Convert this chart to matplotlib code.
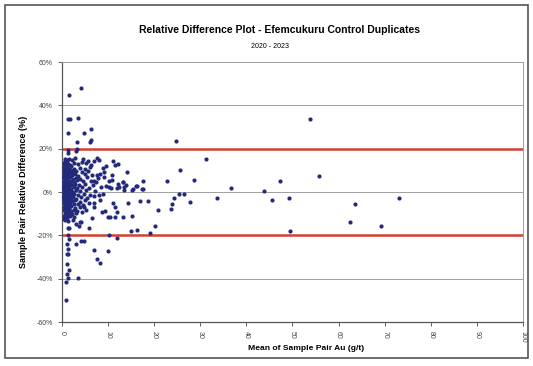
import matplotlib.pyplot as plt
from matplotlib.patches import Rectangle
from matplotlib.ticker import FuncFormatter

plt.rcParams['font.family'] = ['Liberation Sans', 'DejaVu Sans']

title = 'Relative Difference Plot - Efemcukuru Control Duplicates'
subtitle = '2020 - 2023'
x_label = 'Mean of Sample Pair Au (g/t)'
y_label = 'Sample Pair Relative Difference (%)'
limits_pct = [20, -20]

# points away from the main cluster: (mean Au g/t, relative difference %)
pairs_outer = [
    (53.8, 33.7), (31.2, 15.3), (55.8, 7.5), (36.6, 1.8), (47.2, 5.0), (43.9, 0.5),
    (33.7, -2.6), (45.6, -3.6), (49.2, -2.6), (63.6, -5.5), (62.4, -13.9), (69.3, -15.7),
    (73.2, -2.7), (49.5, -17.8), (24.7, 23.5), (25.6, 10.1), (28.6, 5.5), (22.8, 5.2),
    (25.4, -0.7), (26.5, -1.0), (24.4, -2.6), (27.8, -4.6), (23.9, -5.7), (23.6, -7.8),
    (20.9, -8.3), (18.7, -4.0), (16.9, -4.3), (14.3, -5.3), (20.1, -15.6), (19.2, -18.7),
    (16.3, -17.4), (14.9, -18.0), (11.9, -21.2), (17.6, 5.3), (17.5, 1.6), (16.2, 3.0),
    (15.3, 1.2), (14.0, 9.2), (13.3, 4.4), (13.9, 3.3), (15.2, -10.9), (13.3, -11.5),
    (11.6, -11.5), (12.2, 3.8), (11.1, 14.5), (11.6, 12.3), (12.1, 12.9), (9.6, 12.2),
    (10.3, -19.8), (5.9, -16.4),
]

# points near the left edge (high, low and mid-range x)
pairs_left = [
    (1.5, 44.6), (4.1, 48.1), (1.4, 33.7), (1.8, 33.7), (3.5, 34.3), (1.2, 27.3),
    (4.8, 27.1), (6.4, 28.9), (3.2, 23.0), (6.1, 23.2), (6.4, 24.0), (1.2, 19.5),
    (1.4, 18.0), (3.0, 19.0), (3.3, 20.0), (4.3, 13.9), (6.9, 14.2), (7.5, 15.5),
    (8.0, 14.8), (10.8, 7.7), (7.6, 8.0), (8.3, 8.4), (7.0, 5.0), (7.3, 4.6),
    (10.3, 5.0), (10.9, 5.4), (10.3, 2.4), (10.6, 2.0), (12.3, 2.5), (12.0, 1.8),
    (13.2, 4.5), (13.4, 1.0), (13.5, 2.2), (16.1, 2.7), (17.4, 1.3), (15.2, 1.0),
    (8.2, -3.7), (7.0, -2.0), (8.0, -1.5), (6.9, -5.0), (6.9, -7.0), (6.5, -12.0),
    (4.8, -7.0), (4.3, -9.0), (4.0, -14.0), (3.1, -14.7), (3.6, -15.5), (8.6, -9.0),
    (9.3, -8.8), (10.0, -11.6), (10.4, -11.6), (11.0, -5.0), (11.5, -7.0), (12.0, -9.0),
    (0.9, -49.7), (3.4, -39.6), (1.0, -38.0), (1.3, -39.5), (0.8, -41.5), (1.6, -36.0),
    (1.1, -33.1), (1.0, -28.8), (1.3, -28.8), (1.3, -26.4), (1.1, -24.0), (7.0, -26.9),
    (9.9, -27.2), (7.7, -30.9), (8.2, -32.6), (4.1, -22.6), (3.1, -23.9), (4.8, -22.5),
    (1.2, -20.0), (1.6, -21.5), (1.3, -16.6), (1.6, -16.8), (4.2, -14.0),
]

# dense cluster at low grade
pairs_cluster = [
    (0.6, 15.2), (1.0, 14.6), (1.5, 15.4), (2.2, 14.8), (2.9, 15.6), (4.6, 15.1), (5.6, 14.4),
    (0.5, 13.4), (0.9, 12.7), (1.3, 13.1), (1.8, 12.4), (2.5, 13.6), (3.4, 12.9), (5.2, 13.3),
    (6.3, 12.6), (0.4, 11.3), (0.7, 10.6), (1.1, 11.5), (1.6, 10.8), (2.0, 11.9), (2.7, 10.4),
    (3.8, 11.2), (4.9, 10.7), (6.0, 11.4), (8.8, 10.9), (0.5, 9.9), (0.8, 9.2), (1.2, 9.7),
    (1.5, 8.9), (1.9, 10.1), (2.4, 9.4), (3.1, 9.8), (4.4, 9.1), (5.7, 9.6), (9.2, 9.3),
    (0.4, 8.3), (0.6, 7.6), (0.9, 8.1), (1.3, 7.4), (1.7, 8.6), (2.1, 7.8), (2.8, 8.2),
    (3.5, 7.5), (5.1, 8.4), (6.5, 7.7), (0.3, 6.8), (0.7, 6.1), (1.0, 6.9), (1.4, 6.3),
    (1.8, 7.0), (2.3, 6.0), (3.0, 6.6), (4.0, 6.2), (5.4, 6.9), (7.9, 6.4), (9.1, 6.7),
    (0.5, 5.3), (0.8, 4.6), (1.1, 5.5), (1.5, 4.8), (1.9, 5.2), (2.6, 4.4), (3.3, 5.6),
    (4.6, 4.9), (6.2, 5.1), (0.4, 3.8), (0.7, 3.1), (1.0, 3.6), (1.3, 2.9), (1.7, 4.0),
    (2.2, 3.3), (2.9, 3.9), (3.7, 3.2), (5.0, 3.7), (6.8, 3.4), (9.6, 3.0), (0.3, 2.3),
    (0.6, 1.6), (0.9, 2.4), (1.2, 1.8), (1.6, 2.6), (2.0, 1.5), (2.5, 2.2), (3.2, 1.7),
    (4.3, 2.5), (5.8, 1.9), (8.4, 2.1), (0.5, 0.8), (0.8, 0.1), (1.1, 0.9), (1.4, 0.2),
    (1.8, 0.6), (2.3, -0.1), (3.0, 0.7), (3.9, 0.3), (5.3, 0.9), (7.2, 0.4), (0.4, -0.7),
    (0.7, -1.4), (1.0, -0.9), (1.3, -1.6), (1.7, -0.6), (2.1, -1.2), (2.7, -0.8), (3.5, -1.5),
    (4.7, -0.9), (6.1, -1.3), (9.0, -0.8), (0.3, -2.2), (0.6, -2.9), (0.9, -2.3), (1.2, -3.0),
    (1.5, -2.1), (1.9, -2.7), (2.4, -2.4), (3.1, -3.1), (4.1, -2.2), (5.5, -2.8), (0.5, -3.7),
    (0.8, -4.4), (1.1, -3.8), (1.4, -4.5), (1.8, -3.6), (2.2, -4.2), (2.8, -3.9), (3.8, -4.6),
    (5.0, -3.8), (0.4, -5.2), (0.7, -5.9), (1.0, -5.3), (1.3, -6.0), (1.7, -5.1), (2.5, -5.7),
    (3.4, -5.4), (4.5, -6.1), (5.9, -5.3), (0.5, -6.7), (0.8, -7.4), (1.2, -6.8), (1.6, -7.5),
    (2.0, -6.6), (2.9, -7.2), (3.9, -6.9), (0.4, -8.2), (0.9, -8.9), (1.3, -8.3), (1.9, -8.8),
    (2.6, -8.1), (3.3, -8.7), (5.3, -8.4), (0.6, -9.8), (1.0, -10.4), (1.5, -9.7), (2.2, -10.3),
    (3.0, -9.9), (0.5, -11.3), (1.1, -11.9), (1.8, -11.2), (2.7, -11.7), (0.7, -12.8),
    (1.4, -13.4), (2.3, -12.9), (0.35, 12.0), (0.45, 4.3), (0.55, -4.9), (0.65, 1.0),
    (0.75, 8.8), (0.85, -7.9), (0.95, 12.2), (1.05, -1.8), (0.35, -0.2), (0.45, 10.3),
    (0.55, 6.5), (0.65, -3.3), (0.75, -10.9), (0.85, 3.9), (0.95, -6.4), (1.15, 14.0),
    (1.25, 4.1), (1.35, -9.2), (0.4, -12.3), (0.6, 14.1),
]

all_pairs = pairs_outer + pairs_left + pairs_cluster
mean_au = [p[0] for p in all_pairs]
rel_diff = [p[1] for p in all_pairs]

fig = plt.figure(figsize=(5.33, 3.66), dpi=100)
ax = fig.add_axes([0.1163, 0.1202, 0.8649, 0.7104])

# outer chart frame
fig.patches.append(Rectangle((0.009, 0.022), 0.982, 0.965, transform=fig.transFigure,
                             fill=False, edgecolor='#555555', linewidth=1.2))

ax.set_xlim(0, 100)
ax.set_ylim(-60, 60)
ax.set_xticks(range(0, 101, 10))
ax.set_yticks(range(-60, 61, 20))
ax.yaxis.set_major_formatter(FuncFormatter(lambda v, p: '%d%%' % v))
ax.grid(axis='y', color='#a0a0a0', linewidth=0.7)
ax.set_axisbelow(True)

for lim in limits_pct:
    ax.axhline(lim, color='#d2412e', linewidth=1.8, zorder=2)

ax.scatter(mean_au, rel_diff, s=9, color='#232a7c', zorder=3, linewidths=0)

for s in ['top', 'right']:
    ax.spines[s].set_color('#a0a0a0')
    ax.spines[s].set_linewidth(0.7)
for s in ['left', 'bottom']:
    ax.spines[s].set_color('#555555')
    ax.spines[s].set_linewidth(0.9)

ax.tick_params(axis='both', labelsize=5, colors='#444444', length=3, width=0.6)
for lbl in ax.get_xticklabels():
    lbl.set_rotation(270)

ax.set_xlabel(x_label, fontsize=6.1, fontweight='bold', labelpad=2)
ax.xaxis.set_label_coords(0.53, -0.09)
ax.set_ylabel(y_label, fontsize=6.5, fontweight='bold', labelpad=6)

fig.text(0.525, 0.918, title, ha='center', va='center', fontsize=7.5, fontweight='bold')
fig.text(0.507, 0.872, subtitle, ha='center', va='center', fontsize=5)

fig.savefig('out.png', dpi=100)
